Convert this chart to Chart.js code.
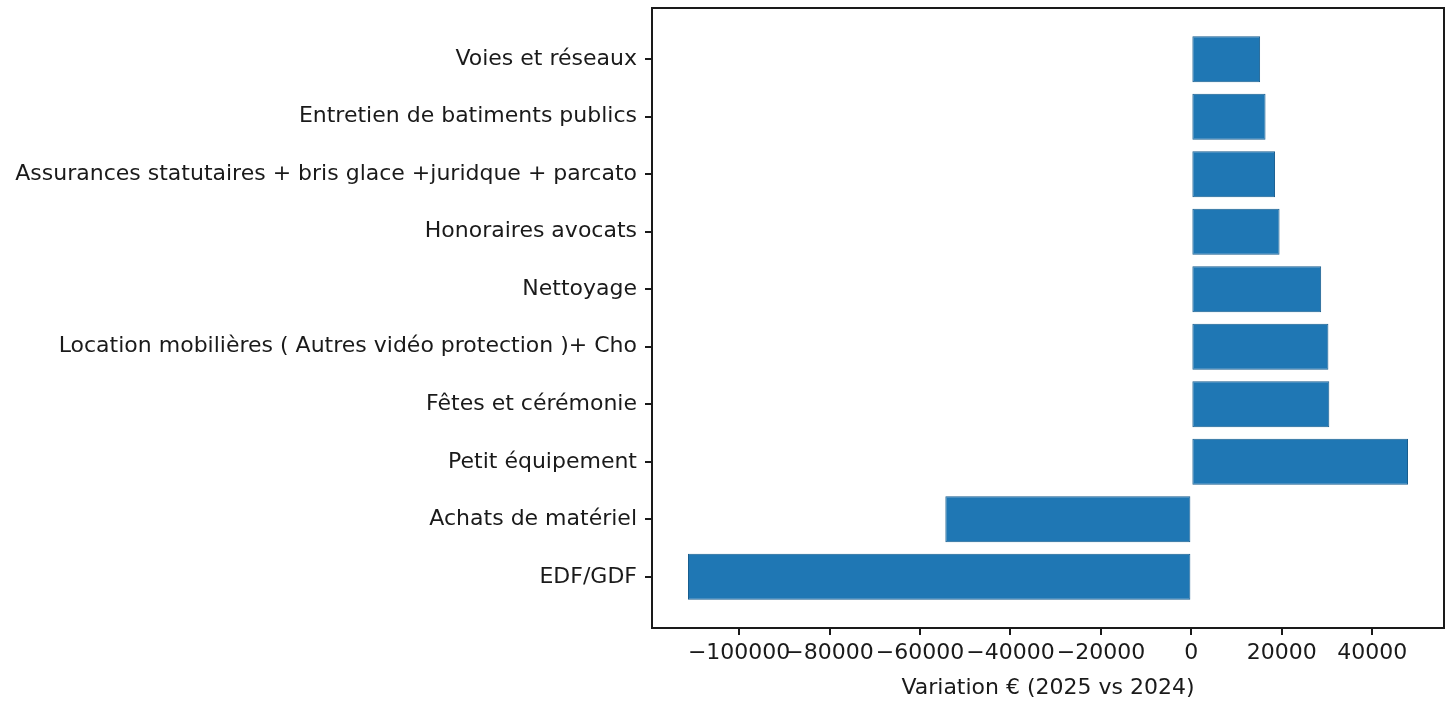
<!DOCTYPE html>
<html>
<head>
<meta charset="utf-8">
<script src="https://cdn.jsdelivr.net/npm/chart.js@4"></script>
<style>
  html, body { margin: 0; padding: 0; background: #fff; }
  #wrap { width: 1455px; height: 701px; position: relative; }
</style>
</head>
<body>
<div id="wrap"><canvas id="variationChart"></canvas></div>
<script>
// Postes de dépense, du bas vers le haut (ordre matplotlib barh)
const categories = [
    'EDF/GDF',
    'Achats de matériel',
    'Petit équipement',
    'Fêtes et cérémonie',
    'Location mobilières ( Autres vidéo protection )+ Cho',
    'Nettoyage',
    'Honoraires avocats',
    'Assurances statutaires + bris glace +juridque + parcato',
    'Entretien de batiments publics',
    'Voies et réseaux'
];
const variations = [-111300, -54400, 47900, 30500, 30300, 28700, 19500, 18500, 16400, 15200];
const xTicks = [-100000, -80000, -60000, -40000, -20000, 0, 20000, 40000];
const xTitle = 'Variation € (2025 vs 2024)';

// marges 5% comme matplotlib
const lo = Math.min(0, ...variations), hi = Math.max(0, ...variations);
const pad = (hi - lo) * 0.05;
const yLo = -0.4, yHi = categories.length - 1 + 0.4;
const yPad = (yHi - yLo) * 0.05;

const ink = '#1a1a1a';
const font = { family: 'DejaVu Sans', size: 22 };

// cadre complet autour de la zone de tracé
const frame = {
    id: 'frame',
    afterDatasetsDraw(chart) {
        const { ctx, chartArea: a } = chart;
        ctx.save();
        ctx.strokeStyle = ink;
        ctx.lineWidth = 2;
        ctx.strokeRect(a.left, a.top, a.right - a.left, a.bottom - a.top);
        ctx.restore();
    }
};

new Chart(document.getElementById('variationChart'), {
    type: 'bar',
    data: {
        datasets: [{
            data: variations.map((v, i) => ({ x: v, y: i })),
            backgroundColor: '#1f77b4',
            borderColor: '#175d8e',
            borderWidth: 1,
            borderSkipped: false,
            categoryPercentage: 1,
            barPercentage: 0.8
        }]
    },
    options: {
        indexAxis: 'y',
        responsive: true,
        maintainAspectRatio: false,
        animation: false,
        layout: { padding: { top: 8, right: 11, left: 0, bottom: 0 } },
        plugins: {
            legend: { display: false },
            tooltip: { enabled: false }
        },
        scales: {
            x: {
                type: 'linear',
                min: lo - pad,
                max: hi + pad,
                afterBuildTicks: (s) => { s.ticks = xTicks.map(v => ({ value: v })); },
                afterFit: (s) => { s.height = 73; s.paddingLeft = 0; s.paddingRight = 0; },
                grid: { drawOnChartArea: false, drawTicks: true, tickLength: 7, color: ink, lineWidth: 2 },
                border: { display: true, color: ink, width: 2 },
                ticks: {
                    color: ink,
                    font: font,
                    padding: 5,
                    maxRotation: 0,
                    autoSkip: false,
                    callback: (v) => v < 0 ? '\u2212' + Math.abs(v) : String(v)
                },
                title: { display: true, text: xTitle, color: ink, font: font, padding: { top: 2, bottom: 0 } }
            },
            y: {
                type: 'linear',
                offset: false,
                min: yLo - yPad,
                max: yHi + yPad,
                afterBuildTicks: (s) => { s.ticks = categories.map((_, i) => ({ value: i })); },
                afterFit: (s) => { s.width = 652; s.paddingTop = 0; s.paddingBottom = 0; },
                grid: { offset: false, drawOnChartArea: false, drawTicks: true, tickLength: 7, color: ink, lineWidth: 2 },
                border: { display: true, color: ink, width: 2 },
                ticks: {
                    color: ink,
                    font: font,
                    padding: 8,
                    autoSkip: false,
                    callback: (v) => categories[v]
                }
            }
        }
    },
    plugins: [frame]
});
</script>
</body>
</html>
